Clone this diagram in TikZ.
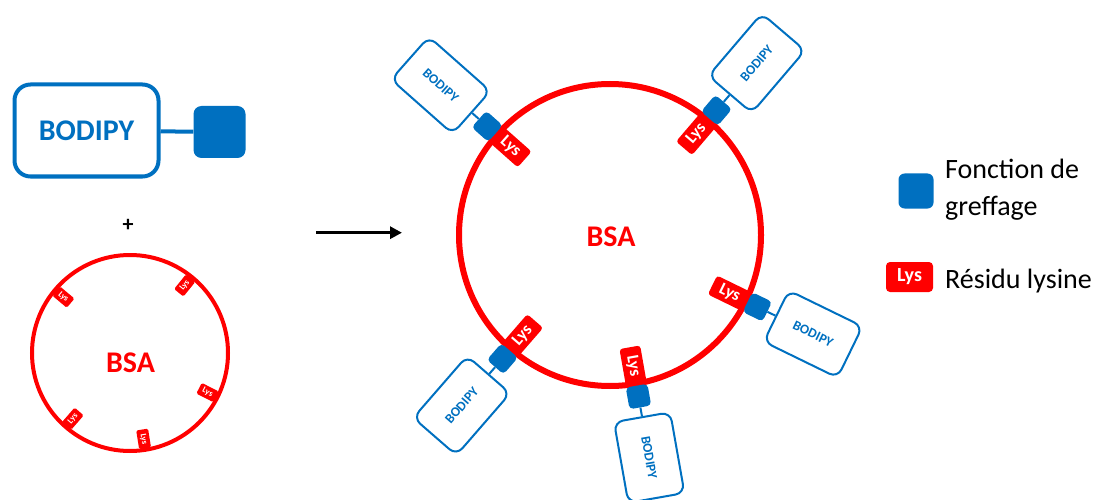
\documentclass[tikz,border=0pt]{standalone}
\usepackage{fontspec}
\setmainfont{Carlito}
\usetikzlibrary{calc,arrows.meta}
\definecolor{bblue}{HTML}{0070C0}
\definecolor{bred}{HTML}{FF0000}
\begin{document}
\begin{tikzpicture}[x=1pt,y=1pt,
  mainbody/.style={draw=bblue, line width=4pt, rounded corners=16pt, minimum width=144pt, minimum height=92pt, text=bblue, inner sep=0pt, font=\fontsize{30}{36}\selectfont\bfseries},
  graftL/.style={fill=bblue, minimum size=52pt, rounded corners=8pt, inner sep=0pt},
  graftS/.style={fill=bblue, minimum size=22pt, rounded corners=4pt, inner sep=0pt},
  graftLeg/.style={fill=bblue, minimum size=35pt, rounded corners=6pt, inner sep=0pt},
  lysS/.style={fill=bred, text=white, minimum width=19pt, minimum height=12pt, rounded corners=1.5pt, inner sep=0pt, font=\fontsize{8.5}{9}\selectfont\bfseries},
  lysB/.style={fill=bred, text=white, minimum width=38pt, minimum height=21pt, rounded corners=3pt, inner sep=0pt, font=\fontsize{17}{18}\selectfont\bfseries},
  lysLeg/.style={fill=bred, text=white, minimum width=47pt, minimum height=30pt, rounded corners=4pt, inner sep=0pt, font=\fontsize{20}{22}\selectfont\bfseries},
  smallbody/.style={draw=bblue, line width=2pt, rounded corners=9pt, minimum width=82pt, minimum height=57pt, text=bblue, inner sep=0pt, font=\fontsize{13.5}{14}\selectfont\bfseries},
  protS/.style={draw=bred, line width=4pt, circle, minimum size=196pt, inner sep=0pt},
  protB/.style={draw=bred, line width=6pt, circle, minimum size=302pt, inner sep=0pt},
  bsatext/.style={text=bred, inner sep=0pt, font=\fontsize{30}{36}\selectfont\bfseries},
  legtext/.style={inner sep=0pt, font=\fontsize{28}{37}\selectfont},
  link/.style={draw=bblue, line width=2pt}
]
\useasboundingbox (0,0) rectangle (1103,499);

% left: BODIPY + graft
\node[mainbody] (body) at (86.5,368.5) {BODIPY};
\node[graftL] (graft) at (219.5,367) {};
\draw[draw=bblue, line width=4pt] (body) -- (graft);

\node[font=\fontsize{22}{24}\selectfont\bfseries, inner sep=0pt] (plus) at (128,274) {+};

% small BSA
\node[protS] (ps) at (130,146) {};
\node[bsatext] (pst) at (130.5,136) {BSA};
\foreach \a/\r [count=\i] in {140/-40, 51/51, -27/-27, -131/49, -81/-81} {
  \node[lysS, rotate=\r] (ls\i) at ($(ps.center)+(\a:87pt)$) {Lys};
}

% arrow
\coordinate (a1) at (316,266.3);
\coordinate (a2) at (402,266.3);
\draw[line width=3pt, -{Triangle[length=12pt,width=12pt]}] (a1) -- (a2);

% big BSA
\node[protB] (pb) at (610,264) {};
\node[bsatext] (pbt) at (611,262) {BSA};
\foreach \a/\r [count=\i] in {138.5/-41.5, 49.5/49.5, -26/-26, -131/49, -80/-80} {
  \node[lysB, rotate=\r] (lb\i) at ($(pb.center)+(\a:133pt)$) {Lys};
  \node[graftS, rotate=\a] (gb\i) at ($(pb.center)+(\a:164pt)$) {};
  \node[smallbody, rotate=\r] (bb\i) at ($(pb.center)+(\a:226pt)$) {BODIPY};
  \draw[link] (gb\i) -- (bb\i);
}

% legend
\node[graftLeg] (lg1) at (916,308) {};
\node[legtext, anchor=west, align=left] (lt1) at (945,309.4) {Fonction de\\greffage};
\node[lysLeg] (lg2) at (909.5,222) {Lys};
\node[legtext, anchor=base west] (lt2) at (945,210.7) {Résidu lysine};
\end{tikzpicture}
\end{document}
